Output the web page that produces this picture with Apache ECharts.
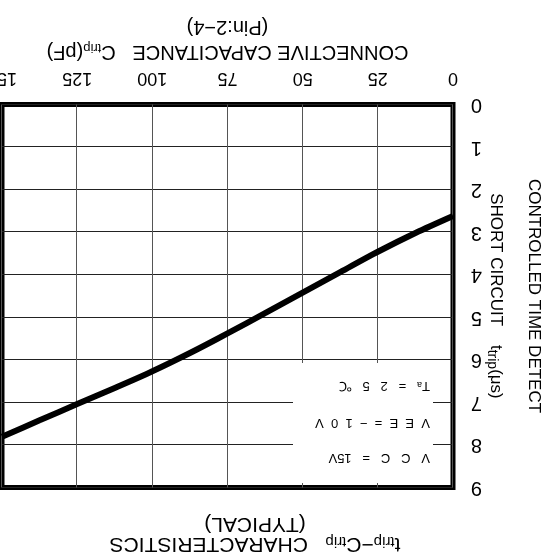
<!DOCTYPE html>
<html>
<head>
<meta charset="utf-8">
<script src="https://cdn.jsdelivr.net/npm/echarts/dist/echarts.min.js"></script>
<style>
html,body{margin:0;padding:0;background:#fff;overflow:hidden;}
/* the reference picture is the datasheet chart turned upside down */
#chart{width:549px;height:559px;transform:rotate(180deg);transform-origin:50% 50%;}
</style>
</head>
<body>
<div id="chart"></div>
<script>
// ---- data ----
const capacitancePF = [0, 12.5, 25, 37.5, 50, 62.5, 75, 87.5, 100, 112.5, 125, 137.5, 150];
const tripTimeUs    = [2.62, 3.02, 3.46, 3.94, 4.42, 4.9, 5.38, 5.84, 6.27, 6.66, 7.04, 7.42, 7.81];
const xRange = [0, 150];
const xStep = 25;
const yRange = [0, 9];
const yStep = 1;
const titleLines = ['t{s|trip}−C{s|trip}   CHARACTERISTICS', '(TYPICAL)'];
const xNameLines = ['CONNECTIVE CAPACITANCE   C{s|trip}(pF)', '(Pin:2−4)'];
const yNameLines = ['CONTROLLED TIME DETECT', 'SHORT CIRCUIT    t{s|trip}(μs)'];
const conditions = ['V   C   C   =   15V', 'V  E  E  =  −  1  0  V', 'T{s|a}   =   2   5   ℃'];

const FONT = '"Liberation Sans", Arial, Helvetica, sans-serif';
const chart = echarts.init(document.getElementById('chart'), null, {renderer: 'canvas'});

const points = capacitancePF.map((c, i) => [c, tripTimeUs[i]]);

const option = {
  animation: false,
  backgroundColor: '#ffffff',
  textStyle: {fontFamily: FONT, color: '#000'},
  title: {
    text: titleLines.join('\n'),
    left: 289,
    top: 0,
    textAlign: 'center',
    textStyle: {
      fontFamily: FONT, fontSize: 21, fontWeight: 'normal', color: '#000', lineHeight: 20,
      rich: {s: {fontFamily: FONT, fontSize: 15, verticalAlign: 'bottom', lineHeight: 20, color: '#000'}}
    }
  },
  grid: {
    left: 96, right: 2, top: 71.5, bottom: 104.5,
    containLabel: false,
    outerBoundsMode: 'none',
    show: true,
    borderColor: '#000',
    borderWidth: 5,
    backgroundColor: 'transparent'
  },
  xAxis: {
    type: 'value',
    min: xRange[0], max: xRange[1], interval: xStep,
    axisLine: {show: false},
    axisTick: {show: false},
    axisLabel: {margin: 18, fontSize: 18, color: '#000', fontFamily: FONT, showMinLabel: true, showMaxLabel: true, hideOverlap: false},
    splitLine: {show: true, lineStyle: {color: '#555', width: 1}},
    name: xNameLines.join('\n'),
    nameLocation: 'middle',
    nameGap: 40,
    nameMoveOverlap: false,
    nameTextStyle: {
      fontFamily: FONT, fontSize: 20, color: '#000', lineHeight: 25,
      rich: {s: {fontFamily: FONT, fontSize: 13, verticalAlign: 'bottom', lineHeight: 25, padding: [0, 0, 2, 0], color: '#000'}}
    }
  },
  yAxis: {
    type: 'value',
    min: yRange[0], max: yRange[1], interval: yStep,
    axisLine: {show: false},
    axisTick: {show: false},
    axisLabel: {margin: 18, fontSize: 20, color: '#000', fontFamily: FONT, showMinLabel: true, showMaxLabel: true, hideOverlap: false},
    splitLine: {show: true, lineStyle: {color: '#222', width: 1}},
    name: yNameLines.join('\n'),
    nameLocation: 'middle',
    nameRotate: 90,
    nameGap: 24,
    nameMoveOverlap: false,
    nameTextStyle: {
      fontFamily: FONT, fontSize: 17, color: '#000', lineHeight: 38,
      rich: {s: {fontFamily: FONT, fontSize: 14, verticalAlign: 'bottom', lineHeight: 38, padding: [0, 0, 8, 0], color: '#000'}}
    }
  },
  graphic: [
    {type: 'rect', z: 50, shape: {x: 116, y: 76, width: 140, height: 120}, style: {fill: '#fff'}},
    {type: 'text', z: 51, x: 119, y: 101, style: {text: conditions[0], font: '13px ' + FONT, fill: '#000', verticalAlign: 'middle'}},
    {type: 'text', z: 51, x: 119, y: 136, style: {text: conditions[1], font: '13px ' + FONT, fill: '#000', verticalAlign: 'middle'}},
    {type: 'text', z: 51, x: 119, y: 173, style: {text: conditions[2], font: '13px ' + FONT, fill: '#000', verticalAlign: 'middle',
      rich: {s: {fontSize: 9, fontFamily: FONT, verticalAlign: 'bottom', fill: '#000'}}}}
  ],
  series: [{
    type: 'line',
    data: points,
    smooth: 0.3,
    showSymbol: false,
    symbol: 'none',
    lineStyle: {color: '#000', width: 6},
    z: 5
  }]
};
chart.setOption(option);
</script>
</body>
</html>
